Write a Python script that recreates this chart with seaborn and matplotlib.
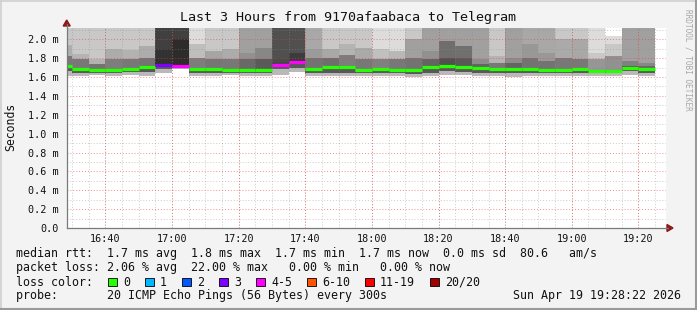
import matplotlib
matplotlib.use("Agg")
import matplotlib.pyplot as plt
from matplotlib.patches import Rectangle, Polygon
from matplotlib.lines import Line2D
import numpy as np
import pandas as pd
import seaborn as sns

# ---------------- data ----------------
title = "Last 3 Hours from 9170afaabaca to Telegram"
window_start = "16:28:22"
window_end = "19:28:22"
step_min = 5
col_end = ["16:30", "16:35", "16:40", "16:45", "16:50", "16:55", "17:00", "17:05", "17:10",
           "17:15", "17:20", "17:25", "17:30", "17:35", "17:40", "17:45", "17:50", "17:55",
           "18:00", "18:05", "18:10", "18:15", "18:20", "18:25", "18:30", "18:35", "18:40",
           "18:45", "18:50", "18:55", "19:00", "19:05", "19:10", "19:15", "19:20", "19:25"]
median_ms = [1.720, 1.688, 1.675, 1.675, 1.688, 1.710, 1.728, 1.712, 1.685, 1.685, 1.675, 1.675,
             1.675, 1.731, 1.762, 1.688, 1.710, 1.710, 1.678, 1.688, 1.677, 1.677, 1.710, 1.720,
             1.710, 1.696, 1.688, 1.688, 1.688, 1.671, 1.679, 1.688, 1.669, 1.669, 1.700, 1.688]
loss_count = [0, 0, 0, 0, 0, 0, 3, 4, 0, 0, 0, 0, 0, 4, 4, 0, 0, 0,
              0, 0, 0, 0, 0, 0, 0, 0, 0, 0, 0, 0, 0, 0, 0, 0, 0, 0]
# smoke (ping spread), ms and gray levels
smoke_max = [2.3] * 33 + [2.03, 2.3, 2.3]
top_gray = [200, 200, 200, 200, 200, 200, 64, 64, 220, 200, 200, 160, 160, 80, 80, 168, 200, 200,
            200, 220, 220, 200, 160, 160, 160, 160, 200, 160, 168, 168, 200, 200, 220, 220, 160, 160]
edge1 = [1.94, 1.84, 1.79, 1.90, 1.89, 1.93, 1.90, 2.00, 1.95, 1.876, 1.90, 1.858, 1.91, 1.80, 1.858,
         1.894, 1.894, 1.946, 1.91, 1.894, 1.876, 2.00, 1.876, 1.98, 1.93, 1.788, 1.823, 1.805,
         1.946, 1.858, 2.00, 2.005, 1.858, 1.946, 1.77, 1.752]
mid_gray = [175, 180, 178, 172, 178, 172, 50, 44, 190, 165, 172, 145, 135, 75, 60, 155, 168, 180,
            170, 192, 184, 160, 145, 110, 112, 140, 180, 140, 152, 152, 170, 168, 200, 200, 128, 135]
edge2 = [1.82, 1.79, 1.735, 1.79, 1.79, 1.80, 1.80, 1.80, 1.80, 1.79, 1.79, 1.79, 1.79, 1.76, 1.80,
         1.80, 1.80, 1.83, 1.788, 1.788, 1.79, 1.80, 1.79, 1.805, 1.805, 1.735, 1.752, 1.752,
         1.80, 1.77, 1.80, 1.79, 1.788, 1.823, 1.72, 1.72]
inner_gray = [120, 120, 115, 125, 120, 115, 48, 44, 125, 118, 120, 105, 90, 70, 58, 115, 110, 125,
              120, 128, 120, 115, 100, 80, 88, 100, 120, 100, 115, 115, 120, 120, 150, 145, 95, 105]
low_dark = [1.665, 1.647, 1.647, 1.640, 1.650, 1.650, 1.685, 1.700, 1.647, 1.647, 1.647, 1.640,
            1.647, 1.689, 1.700, 1.647, 1.647, 1.647, 1.647, 1.640, 1.640, 1.629, 1.647, 1.665,
            1.655, 1.647, 1.640, 1.640, 1.640, 1.640, 1.647, 1.640, 1.640, 1.640, 1.660, 1.647]
low_min = [1.615, 1.611, 1.618, 1.611, 1.618, 1.611, 1.645, 1.690, 1.611, 1.611, 1.618, 1.611,
           1.611, 1.625, 1.650, 1.611, 1.611, 1.611, 1.611, 1.611, 1.611, 1.600, 1.611, 1.618,
           1.618, 1.611, 1.611, 1.600, 1.611, 1.611, 1.611, 1.611, 1.611, 1.611, 1.618, 1.611]

yticks = [0.0, 0.2, 0.4, 0.6, 0.8, 1.0, 1.2, 1.4, 1.6, 1.8, 2.0]
ytick_labels = ["0.0", "0.2 m", "0.4 m", "0.6 m", "0.8 m", "1.0 m", "1.2 m", "1.4 m",
                "1.6 m", "1.8 m", "2.0 m"]
xtick_labels = ["16:40", "17:00", "17:20", "17:40", "18:00", "18:20", "18:40", "19:00", "19:20"]
y_top = 2.12

loss_labels = ["0", "1", "2", "3", "4-5", "6-10", "11-19", "20/20"]
loss_colors = ["#26ff00", "#00b8ff", "#0059ff", "#7e00ff", "#ff00ff", "#ff5500", "#ff0000", "#a10000"]
legend_lines = [
    "median rtt:  1.7 ms avg  1.8 ms max  1.7 ms min  1.7 ms now  0.0 ms sd  80.6   am/s",
    "packet loss: 2.06 % avg  22.00 % max   0.00 % min   0.00 % now",
    "loss color:",
    "probe:       20 ICMP Echo Pings (56 Bytes) every 300s",
]
stamp = "Sun Apr 19 19:28:22 2026"
watermark = "RRDTOOL / TOBI OETIKER"


def to_min(s):
    p = [int(v) for v in s.split(":")]
    return (p[0] - 16) * 60 + p[1] + (p[2] / 60 if len(p) > 2 else 0)


def loss_class(n):
    if n <= 3:
        return loss_labels[n]
    if n <= 5:
        return "4-5"
    if n <= 10:
        return "6-10"
    if n <= 19:
        return "11-19"
    return "20/20"


# ---------------- figure ----------------
sns.set_theme(style="white")
plt.rcParams['font.family'] = ['DejaVu Sans Mono', 'DejaVu Sans']
W, H = 697, 310
fig = plt.figure(figsize=(W / 100, H / 100), dpi=100, facecolor="#f3f3f3")
ax_l, ax_r, ax_t, ax_b = 66.7, 666.3, 28, 228
ax = fig.add_axes([ax_l / W, 1 - ax_b / H, (ax_r - ax_l) / W, (ax_b - ax_t) / H])
ax.set_facecolor("white")

x0, x1 = to_min(window_start), to_min(window_end)
ends = np.array([to_min(s) for s in col_end])
starts = ends - step_min
med = np.array(median_ms)


def g(v):
    return np.array([(c / 255, c / 255, c / 255) for c in v])


lm, ld = np.array(low_min), np.array(low_dark)
e1, e2, sm = np.array(edge1), np.array(edge2), np.array(smoke_max)
layers = [
    (lm, ld, g([185] * len(med))),
    (ld, med, g([88] * len(med))),
    (med, e2, g(inner_gray)),
    (e2, e1, g(mid_gray)),
    (e1, sm, g(top_gray)),
]
for lo, hi, col in layers:
    h = np.clip(hi - lo, 0, None)
    ax.bar(starts, h, width=step_min, bottom=lo, align="edge", color=col,
           linewidth=0, zorder=1)

# grid
minor_v = ends[ends < x1]
major_v = [to_min(s) for s in xtick_labels]
for xv in minor_v:
    ax.axvline(xv, color=(0.55, 0.55, 0.55, 0.45), lw=0.7, ls=(0, (1, 2)), zorder=2)
for yv in np.arange(0.1, 2.11, 0.2):
    ax.axhline(yv, color=(0.55, 0.55, 0.55, 0.45), lw=0.7, ls=(0, (1, 2)), zorder=2)
for xv in major_v:
    ax.axvline(xv, color=(0.92, 0.25, 0.25, 0.6), lw=0.7, ls=(0, (1, 2)), zorder=3)
for yv in yticks[1:]:
    ax.axhline(yv, color=(0.92, 0.25, 0.25, 0.6), lw=0.7, ls=(0, (1, 2)), zorder=3)

# median lines via seaborn
rows = []
for i in range(len(med)):
    cls = loss_class(loss_count[i])
    rows.append(dict(t=starts[i], v=med[i], col=i, cls=cls))
    rows.append(dict(t=ends[i], v=med[i], col=i, cls=cls))
df = pd.DataFrame(rows)
pal = dict(zip(loss_labels, loss_colors))
sns.lineplot(data=df, x="t", y="v", units="col", estimator=None, hue="cls",
             palette=pal, lw=2.3, legend=False, ax=ax, sort=False, zorder=5,
             solid_capstyle="butt")

ax.set_xlim(x0, x1)
ax.set_ylim(0, y_top)
ax.set_xticks(major_v)
ax.set_xticklabels(xtick_labels)
ax.set_yticks(yticks)
ax.set_yticklabels(ytick_labels)
ax.tick_params(axis="both", labelsize=7.3, length=2.5, width=0.8, color="#777777",
               pad=3, labelcolor="#111111", direction="out")
ax.tick_params(axis="x", pad=2)
ax.set_xlabel("")
ax.set_ylabel("")
for s in ["top", "right"]:
    ax.spines[s].set_visible(False)
for s in ["left", "bottom"]:
    ax.spines[s].set_color("#7a7a7a")
    ax.spines[s].set_linewidth(0.9)
    ax.spines[s].set_zorder(6)

# axis arrows
def fx(px):
    return px / W


def fy(py):
    return 1 - py / H


arrow_c = "#8b1a1a"
fig.add_artist(Line2D([fx(ax_l), fx(ax_l)], [fy(ax_t), fy(24)], color="#7a7a7a", lw=0.9))
fig.add_artist(Polygon([[fx(ax_l - 3.5), fy(26)], [fx(ax_l + 3.5), fy(26)], [fx(ax_l), fy(20)]],
                       closed=True, color=arrow_c, transform=fig.transFigure))
fig.add_artist(Line2D([fx(ax_r), fx(668)], [fy(ax_b), fy(ax_b)], color="#7a7a7a", lw=0.9))
fig.add_artist(Polygon([[fx(667), fy(ax_b - 3.5)], [fx(667), fy(ax_b + 3.5)], [fx(673), fy(ax_b)]],
                       closed=True, color=arrow_c, transform=fig.transFigure))

# texts
fig.text(fx(348), fy(18), title, ha="center", va="center", fontsize=9.6, color="#111111")
fig.text(fx(11), fy(127), "Seconds", rotation=90, ha="center", va="center", fontsize=8.3,
         color="#111111")
fig.text(fx(688), fy(60), watermark, rotation=270, ha="center", va="center", fontsize=5.6,
         color="#a8a8a8")
line_y = [254, 268, 282, 296]
for txt, yy in zip(legend_lines, line_y):
    fig.text(fx(16), fy(yy), txt, ha="left", va="center", fontsize=8.4, color="#111111")
fig.text(fx(681), fy(296), stamp, ha="right", va="center", fontsize=8.4, color="#111111")

bx = 108
for lab, c in zip(loss_labels, loss_colors):
    fig.add_artist(Rectangle((fx(bx), fy(286)), 8.5 / W, 8 / H, transform=fig.transFigure,
                             facecolor=c, edgecolor="black", lw=0.6))
    fig.text(fx(bx + 15), fy(282), lab, ha="left", va="center", fontsize=8.4, color="#111111")
    bx += 15 + 7 * len(lab) + 15

# image frame
fig.add_artist(Line2D([0, 1], [fy(0.5), fy(0.5)], color="#cfcfcf", lw=1.2))
fig.add_artist(Line2D([fx(0.5), fx(0.5)], [0, 1], color="#cfcfcf", lw=1.2))
fig.add_artist(Line2D([0, 1], [fy(309), fy(309)], color="#9a9a9a", lw=1.5))
fig.add_artist(Line2D([fx(696), fx(696)], [0, 1], color="#9a9a9a", lw=1.5))

fig.savefig("out.png", dpi=100, facecolor=fig.get_facecolor())
